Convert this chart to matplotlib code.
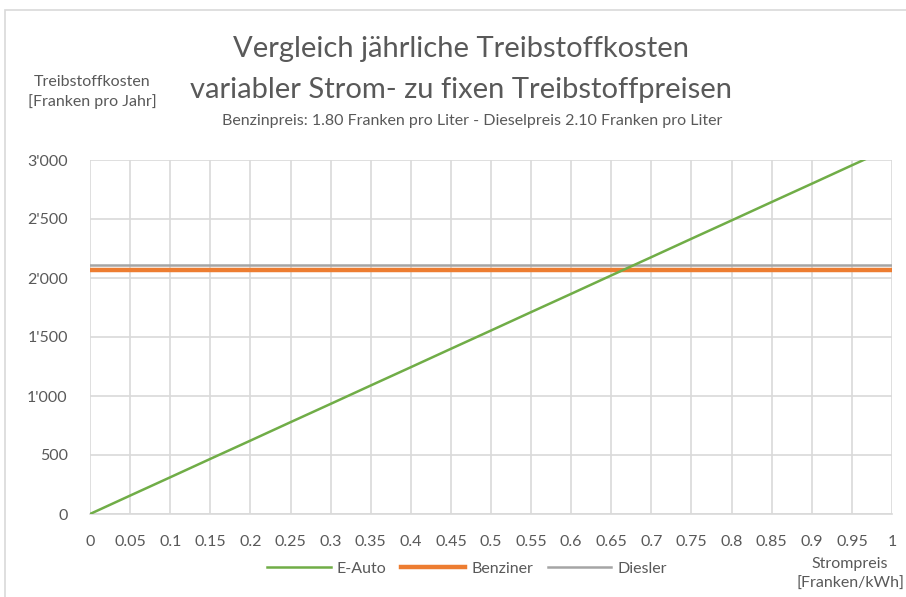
import numpy as np
import matplotlib
matplotlib.use("Agg")
import matplotlib.pyplot as plt
from matplotlib.ticker import FuncFormatter, MultipleLocator
from matplotlib.patches import Rectangle

plt.rcParams['font.family'] = ['Lato', 'DejaVu Sans']

# Strompreis [Franken/kWh]
strompreis = [0, 0.05, 0.1, 0.15, 0.2, 0.25, 0.3, 0.35, 0.4, 0.45, 0.5,
              0.55, 0.6, 0.65, 0.7, 0.75, 0.8, 0.85, 0.9, 0.95, 1.0]
e_auto = [0, 156, 311, 467, 622, 778, 933, 1089, 1244, 1400, 1555,
          1711, 1866, 2022, 2177, 2333, 2488, 2644, 2799, 2955, 3110]
benziner = [2065] * len(strompreis)
diesler = [2110] * len(strompreis)

txt = '#595959'
grid = '#d9d9d9'
fs = 11.5

fig = plt.figure(figsize=(9.06, 5.97), dpi=100)
ax = fig.add_axes([90/906, 83/597, 802/906, 354/597])

# chart area frame
fig.patches.append(Rectangle((5/906, -0.05), 1.2, (597-10)/597 + 0.05,
                             transform=fig.transFigure, fill=False,
                             edgecolor='#d9d9d9', linewidth=1.2))

ax.plot(strompreis, diesler, color='#a5a5a5', lw=1.8, label='Diesler', zorder=3)
ax.plot(strompreis, benziner, color='#ed7d31', lw=3.2, label='Benziner', zorder=3)
ax.plot(strompreis, e_auto, color='#70ad47', lw=1.8, label='E-Auto', zorder=4)

ax.set_xlim(0, 1)
ax.set_ylim(0, 3000)
ax.xaxis.set_major_locator(MultipleLocator(0.05))
ax.yaxis.set_major_locator(MultipleLocator(500))
ax.xaxis.set_major_formatter(FuncFormatter(lambda v, p: ('%.2f' % v).rstrip('0').rstrip('.')))
ax.yaxis.set_major_formatter(FuncFormatter(lambda v, p: '{:,}'.format(int(v)).replace(',', "'")))
ax.grid(True, color=grid, lw=1.2)
ax.set_axisbelow(True)
for s in ['top', 'right', 'left']:
    ax.spines[s].set_visible(False)
ax.spines['bottom'].set_color(grid)
ax.spines['bottom'].set_linewidth(1.2)
ax.tick_params(length=0, colors=txt, labelsize=fs)
ax.tick_params(axis='x', pad=15)
ax.tick_params(axis='y', pad=16)

fig.text(461/906, 1 - 49/597, 'Vergleich jährliche Treibstoffkosten', ha='center', va='center',
         fontsize=21, color=txt)
fig.text(461/906, 1 - 90/597, 'variabler Strom- zu fixen Treibstoffpreisen', ha='center', va='center',
         fontsize=21, color=txt)
fig.text(472/906, 1 - 121/597, 'Benzinpreis: 1.80 Franken pro Liter - Dieselpreis 2.10 Franken pro Liter',
         ha='center', va='center', fontsize=fs, color=txt)
fig.text(92/906, 1 - 92/597, 'Treibstoffkosten\n[Franken pro Jahr]', ha='center', va='center',
         fontsize=fs, color=txt, linespacing=1.5)
fig.text(850/906, 1 - 574/597, 'Strompreis\n[Franken/kWh]', ha='center', va='center',
         fontsize=fs, color=txt, linespacing=1.55)

h, l = ax.get_legend_handles_labels()
order = [2, 1, 0]
leg = fig.legend([h[i] for i in order], [l[i] for i in order], loc='center',
                 bbox_to_anchor=(467/906, 1 - 569/597), ncol=3, frameon=False,
                 fontsize=fs, handlelength=4.0, columnspacing=0.9, handletextpad=0.4)
for t in leg.get_texts():
    t.set_color(txt)

fig.savefig('out.png', dpi=100)
